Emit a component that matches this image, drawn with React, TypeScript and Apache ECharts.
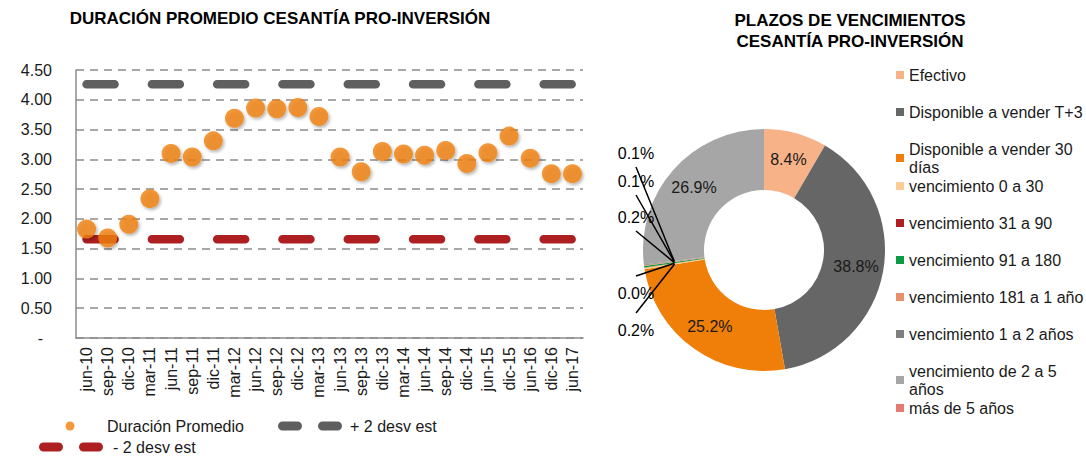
import React, { useEffect, useRef } from 'react';
import * as echarts from 'echarts';

// ---------- data ----------
const categories = [
  'jun-10', 'sep-10', 'dic-10', 'mar-11', 'jun-11', 'sep-11', 'dic-11', 'mar-12',
  'jun-12', 'sep-12', 'dic-12', 'mar-13', 'jun-13', 'sep-13', 'dic-13', 'mar-14',
  'jun-14', 'sep-14', 'dic-14', 'jun-15', 'dic-15', 'jun-16', 'dic-16', 'jun-17',
];
const duracionPromedio = [
  1.83, 1.68, 1.91, 2.34, 3.10, 3.04, 3.31, 3.69,
  3.86, 3.85, 3.87, 3.72, 3.04, 2.79, 3.13, 3.09,
  3.07, 3.15, 2.93, 3.11, 3.39, 3.02, 2.76, 2.76,
];
const upperBand = 4.26; // + 2 desv est
const lowerBand = 1.66; // - 2 desv est
const yMin = 0;
const yMax = 4.5;
const yInterval = 0.5;

const pieNames = [
  'Efectivo',
  'Disponible a vender T+3',
  'Disponible a vender 30 días',
  'vencimiento 0 a 30',
  'vencimiento 31 a 90',
  'vencimiento 91 a 180',
  'vencimiento 181 a 1 año',
  'vencimiento 1 a 2 años',
  'vencimiento de 2 a 5 años',
  'más de 5 años',
];
const pieValues = [8.4, 38.8, 25.2, 0.2, 0.04, 0.2, 0.1, 0.1, 26.9, 0];

// ---------- styles / layout ----------
const FONT = '"Liberation Sans", Arial, sans-serif';
const TEXT = '#1a1a1a';
const GRID_GRAY = '#8c8c8c';
const ORANGE = '#F07F09';
const DARK_GRAY = '#5f5f5f';
const DARK_RED = '#AE1F22';
const pieColors = [
  '#F7B288', '#666666', '#F07F09', '#FDCB94', '#AE1F22',
  '#0E9A44', '#E8906A', '#7F7F7F', '#A6A6A6', '#E57A6E',
];
const legendWrap: Record<string, string> = {
  'Disponible a vender 30 días': 'Disponible a vender 30\ndías',
  'vencimiento de 2 a 5 años': 'vencimiento de 2 a 5\naños',
};
const PIE_CX = 764;
const PIE_CY = 250;
const R_IN = 60;
const R_OUT = 121;
// label rows (y) for the tiny slices, drawn at the left of the ring
const smallLabelRows: Record<number, number> = { 3: 330, 4: 293, 5: 217, 6: 181, 7: 153 };
const SMALL_LABEL_X = 636;

const dashIcon =
  'path://M4.5,0 L19.5,0 A4.5,4.5 0 0 1 19.5,9 L4.5,9 A4.5,4.5 0 0 1 4.5,0 Z ' +
  'M44.5,0 L59.5,0 A4.5,4.5 0 0 1 59.5,9 L44.5,9 A4.5,4.5 0 0 1 44.5,0 Z';
const dotIcon = 'path://M32,0 A4.5,4.5 0 1 1 32,9 A4.5,4.5 0 1 1 32,0 Z';

function midAngle(i: number): number {
  const total = pieValues.reduce((a, b) => a + b, 0);
  let before = 0;
  for (let k = 0; k < i; k++) before += pieValues[k];
  return ((before + pieValues[i] / 2) / total) * Math.PI * 2;
}

function ringMidPoint(i: number): [number, number] {
  const a = midAngle(i);
  const rMid = (R_IN + R_OUT) / 2;
  return [PIE_CX + rMid * Math.sin(a), PIE_CY - rMid * Math.cos(a)];
}

export default function App() {
  const ref = useRef<HTMLDivElement>(null);

  useEffect(() => {
    if (!ref.current) return;
    const chart = echarts.init(ref.current, undefined, { renderer: 'svg' });

    const legendItemCenters = pieNames.map((_, i) => 75 + i * 37);
    const pieLegends = pieNames.map((name, i) => {
      const wrapped = !!legendWrap[name];
      return {
        data: [name],
        orient: 'vertical',
        left: 896,
        top: wrapped ? legendItemCenters[i] - 18 : legendItemCenters[i] - 9,
        padding: 0,
        icon: 'rect',
        itemWidth: 8,
        itemHeight: 8,
        selectedMode: false,
        itemStyle: { borderWidth: 0 },
        formatter: (n: string) => legendWrap[n] || n,
        textStyle: {
          fontFamily: FONT,
          fontSize: 16,
          lineHeight: 18,
          color: TEXT,
          padding: wrapped ? [18, 0, 0, 0] : 0,
        },
      };
    });

    // leader lines for the tiny slices, computed from the slice angles
    const leaderLines = Object.keys(smallLabelRows).map((k) => {
      const idx = Number(k);
      const row = smallLabelRows[idx];
      const [px, py] = ringMidPoint(idx);
      const sy = row < py ? row + 14 : row - 17;
      return {
        type: 'line',
        z: 100,
        silent: true,
        shape: { x1: SMALL_LABEL_X, y1: sy, x2: px, y2: py },
        style: { stroke: '#000', lineWidth: 1.5 },
      };
    });

    const legendText = { fontFamily: FONT, fontSize: 16, color: TEXT };

    const option: any = {
      animation: false,
      backgroundColor: '#ffffff',
      title: [
        {
          text: 'DURACIÓN PROMEDIO CESANTÍA PRO-INVERSIÓN',
          left: 280,
          top: 10,
          padding: 0,
          textAlign: 'center',
          textStyle: { fontFamily: FONT, fontSize: 17, fontWeight: 'bold', color: '#000' },
        },
        {
          text: 'PLAZOS DE VENCIMIENTOS\nCESANTÍA PRO-INVERSIÓN',
          left: 850,
          top: 10,
          padding: 0,
          textAlign: 'center',
          textStyle: { fontFamily: FONT, fontSize: 17, lineHeight: 21, fontWeight: 'bold', color: '#000' },
        },
      ],
      legend: [
        {
          data: ['Duración Promedio'],
          left: 65.5,
          top: 418,
          padding: 0,
          icon: dotIcon,
          itemWidth: 64,
          itemHeight: 9,
          selectedMode: false,
          itemStyle: { borderWidth: 0, shadowBlur: 0 },
          textStyle: legendText,
        },
        {
          data: ['+ 2 desv est'],
          left: 278,
          top: 418,
          padding: 0,
          icon: dashIcon,
          itemWidth: 64,
          itemHeight: 9,
          selectedMode: false,
          itemStyle: { borderWidth: 0 },
          textStyle: { ...legendText, padding: [0, 0, 0, 3] },
        },
        {
          data: ['- 2 desv est'],
          left: 39,
          top: 439,
          padding: 0,
          icon: dashIcon,
          itemWidth: 64,
          itemHeight: 9,
          selectedMode: false,
          itemStyle: { borderWidth: 0 },
          textStyle: { ...legendText, padding: [0, 0, 0, 5] },
        },
        ...pieLegends,
      ],
      grid: { left: 76, right: 503, top: 70, bottom: 119, containLabel: false },
      xAxis: {
        type: 'category',
        data: categories,
        boundaryGap: true,
        axisLine: { show: true, lineStyle: { color: GRID_GRAY, width: 1.5 } },
        axisTick: { show: false },
        axisLabel: {
          rotate: 90,
          interval: 0,
          margin: 9,
          fontFamily: FONT,
          fontSize: 16,
          color: TEXT,
        },
      },
      yAxis: {
        type: 'value',
        min: yMin,
        max: yMax,
        interval: yInterval,
        axisLine: { show: true, lineStyle: { color: GRID_GRAY, width: 1.5 } },
        axisTick: { show: false },
        splitLine: { show: true, lineStyle: { color: GRID_GRAY, width: 1.5, type: [8, 6] } },
        axisLabel: {
          margin: 24,
          fontFamily: FONT,
          fontSize: 16,
          color: TEXT,
          formatter: (v: number) => (v === 0 ? '{z|-}' : v.toFixed(2)),
          rich: { z: { fontFamily: FONT, fontSize: 16, color: TEXT, padding: [0, 9, 0, 0] } },
        },
      },
      graphic: leaderLines,
      series: [
        {
          name: '+ 2 desv est',
          type: 'line',
          data: categories.map(() => upperBand),
          symbol: 'none',
          itemStyle: { color: DARK_GRAY },
          lineStyle: { color: DARK_GRAY, width: 8.5, type: [28, 37.3], cap: 'round' },
          z: 2,
        },
        {
          name: '- 2 desv est',
          type: 'line',
          data: categories.map(() => lowerBand),
          symbol: 'none',
          itemStyle: { color: DARK_RED },
          lineStyle: { color: DARK_RED, width: 8.5, type: [28, 37.3], cap: 'round' },
          z: 2,
        },
        {
          name: 'Duración Promedio',
          type: 'scatter',
          data: duracionPromedio,
          symbolSize: 19,
          itemStyle: {
            color: ORANGE,
            shadowBlur: 3,
            shadowOffsetX: 1.5,
            shadowOffsetY: 2,
            shadowColor: 'rgba(0,0,0,0.35)',
          },
          z: 5,
        },
        {
          name: 'Plazos',
          type: 'pie',
          center: [PIE_CX, PIE_CY],
          radius: [R_IN, R_OUT],
          startAngle: 90,
          clockwise: true,
          avoidLabelOverlap: false,
          minAngle: 0,
          label: {
            show: true,
            position: 'inside',
            fontFamily: FONT,
            fontSize: 16,
            color: TEXT,
            formatter: (p: any) => `${p.value.toFixed(1)}%`,
          },
          labelLine: { show: false },
          emphasis: { disabled: true },
          labelLayout: (params: any) => {
            const row = smallLabelRows[params.dataIndex];
            if (row === undefined) return {};
            return { x: SMALL_LABEL_X, y: row, align: 'center', verticalAlign: 'middle' };
          },
          data: pieNames.map((name, i) => {
            const item: any = { name, value: pieValues[i], itemStyle: { color: pieColors[i] } };
            if (pieValues[i] === 0) {
              item.label = { show: false };
            } else if (smallLabelRows[i] !== undefined) {
              item.label = { show: true, position: 'outside', color: '#000' };
              item.labelLine = { show: false };
            }
            return item;
          }),
        },
      ],
    };

    chart.setOption(option);
    return () => chart.dispose();
  }, []);

  return (
    <div
      ref={ref}
      style={{ position: 'fixed', left: 0, top: 0, width: 1086, height: 457, background: '#fff' }}
    />
  );
}
